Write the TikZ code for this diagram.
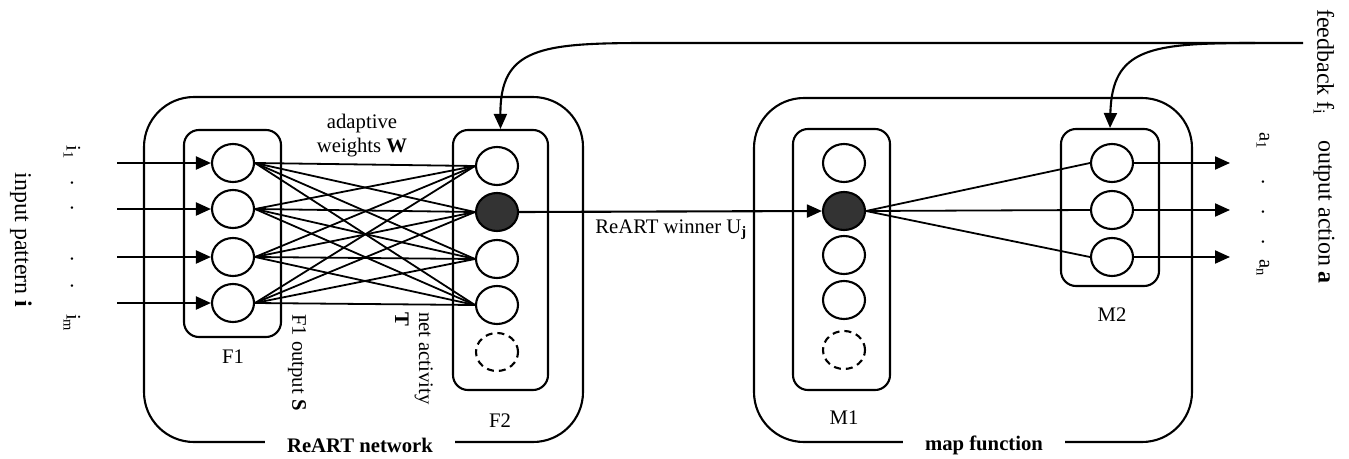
\documentclass[tikz,border=0pt]{standalone}
\usepackage{fontspec}
\setmainfont{Liberation Serif}
\usetikzlibrary{arrows.meta,shapes.geometric}
\begin{document}
\begin{tikzpicture}[x=1pt,y=-1pt,line width=2.1pt,
  every node/.style={font=\fontsize{20.7}{24}\selectfont},
  big/.style={font=\fontsize{24}{28}\selectfont},
  arr/.style={-{Triangle[length=15pt,width=13pt]}},
  unit/.style={draw,ellipse,minimum width=42pt,minimum height=38pt,inner sep=0pt},
  win/.style={unit,fill=black!80},
  spare/.style={unit,dash pattern=on 7pt off 5pt},
  layer/.style={draw,rounded corners=15pt,inner sep=0pt},
  module/.style={draw,rounded corners=50pt,inner sep=0pt},
  modlabel/.style={fill=white,font=\fontsize{20.7}{24}\selectfont\bfseries,inner xsep=22pt,inner ysep=2pt},
  vtext/.style={rotate=-90,inner sep=0pt}]
\useasboundingbox (0,0) rectangle (1349,458);
% modules
\node[module,minimum width=439pt,minimum height=345pt] (reart) at (363.5,269.5) {};
\node[module,minimum width=438pt,minimum height=344pt] (mapf) at (973,270) {};
% layer boxes
\node[layer,minimum width=97pt,minimum height=207pt] (F1box) at (232.5,233.5) {};
\node[layer,minimum width=95pt,minimum height=260pt] (F2box) at (500.5,260) {};
\node[layer,minimum width=97pt,minimum height=261pt] (M1box) at (841.5,259.5) {};
\node[layer,minimum width=98pt,minimum height=157pt] (M2box) at (1110,207.5) {};
% units
\node[unit] (f1a) at (233,163) {};
\node[unit] (f1b) at (233,209) {};
\node[unit] (f1c) at (233,257) {};
\node[unit] (f1d) at (233,303) {};
\node[unit] (f2a) at (497,166) {};
\node[win]  (f2b) at (497,212) {};
\node[unit] (f2c) at (497,259) {};
\node[unit] (f2d) at (497,305) {};
\node[spare] (f2e) at (497,352) {};
\node[unit] (m1a) at (844,163) {};
\node[win]  (m1b) at (844,211) {};
\node[unit] (m1c) at (844,255) {};
\node[unit] (m1d) at (844,300) {};
\node[spare] (m1e) at (844,350) {};
\node[unit] (m2a) at (1112,163) {};
\node[unit] (m2b) at (1112,210) {};
\node[unit] (m2c) at (1112,257) {};
% full connections F1 -> F2
\foreach \s in {f1a,f1b,f1c,f1d}
  \foreach \t in {f2a,f2b,f2c,f2d}
    \draw[line width=1.8pt] (\s.east) -- (\t.west);
% input arrows
\coordinate (in1) at (117,163);
\coordinate (in2) at (117,209);
\coordinate (in3) at (117,257);
\coordinate (in4) at (117,303);
\draw[arr] (in1) -- (f1a.west);
\draw[arr] (in2) -- (f1b.west);
\draw[arr] (in3) -- (f1c.west);
\draw[arr] (in4) -- (f1d.west);
% winner
\draw[arr] (f2b.east) -- (m1b.west);
\draw[line width=1.8pt] (m1b.east) -- (m2a.west);
\draw[line width=1.8pt] (m1b.east) -- (m2b.west);
\draw[line width=1.8pt] (m1b.east) -- (m2c.west);
% outputs
\coordinate (o1) at (1230,163);
\coordinate (o2) at (1230,210);
\coordinate (o3) at (1230,257);
\draw[arr] (m2a.east) -- (o1);
\draw[arr] (m2b.east) -- (o2);
\draw[arr] (m2c.east) -- (o3);
% feedback
\coordinate (fbR) at (1303,43);
\coordinate (fbM) at (1255,43);
\coordinate (fbL) at (647,43);
\draw[arr] (fbR) -- (fbL) .. controls (540,43) and (500,48) .. (F2box.north);
\draw[arr] (fbM) .. controls (1150,43) and (1112,48) .. (M2box.north);
% module labels
\node[modlabel] (lreart) at (360,445) {ReART network};
\node[modlabel] (lmap) at (984,445) {map function};
% layer labels
\node (lF1) at (233,357) {F1};
\node (lF2) at (500,421) {F2};
\node (lM1) at (844,418) {M1};
\node (lM2) at (1112,315) {M2};
\node[align=center] (lw) at (362,136) {adaptive\\weights \textbf{W}};
\node (lwin) at (671,230) {ReART winner U\textsubscript{\textbf{j}}};
\node[vtext,anchor=west] (lS) at (297,313) {F1 output \textbf{S}};
\node[vtext,anchor=north west,align=left] (lT) at (434,311) {net activity\\\textbf{T}};
% input labels
\node[vtext,big] (linp) at (21,240) {input pattern \textbf{i}};
\node[vtext] (i1) at (72,152) {i\textsubscript{1}};
\node[vtext] (id1) at (72,183) {.};
\node[vtext] (id2) at (72,208) {.};
\node[vtext] (id3) at (72,259) {.};
\node[vtext] (id4) at (72,286) {.};
\node[vtext] (im) at (72,323) {i\textsubscript{m}};
% output labels
\node[vtext] (a1) at (1263,141) {a\textsubscript{1}};
\node[vtext] (ad1) at (1263,182) {.};
\node[vtext] (ad2) at (1263,212) {.};
\node[vtext] (ad3) at (1263,242) {.};
\node[vtext] (an) at (1263,268) {a\textsubscript{n}};
\node[vtext,big] (lout) at (1324,212) {output action \textbf{a}};
\node[vtext,big] (lfb) at (1324,62) {feedback f\textsubscript{i}};
\end{tikzpicture}
\end{document}
